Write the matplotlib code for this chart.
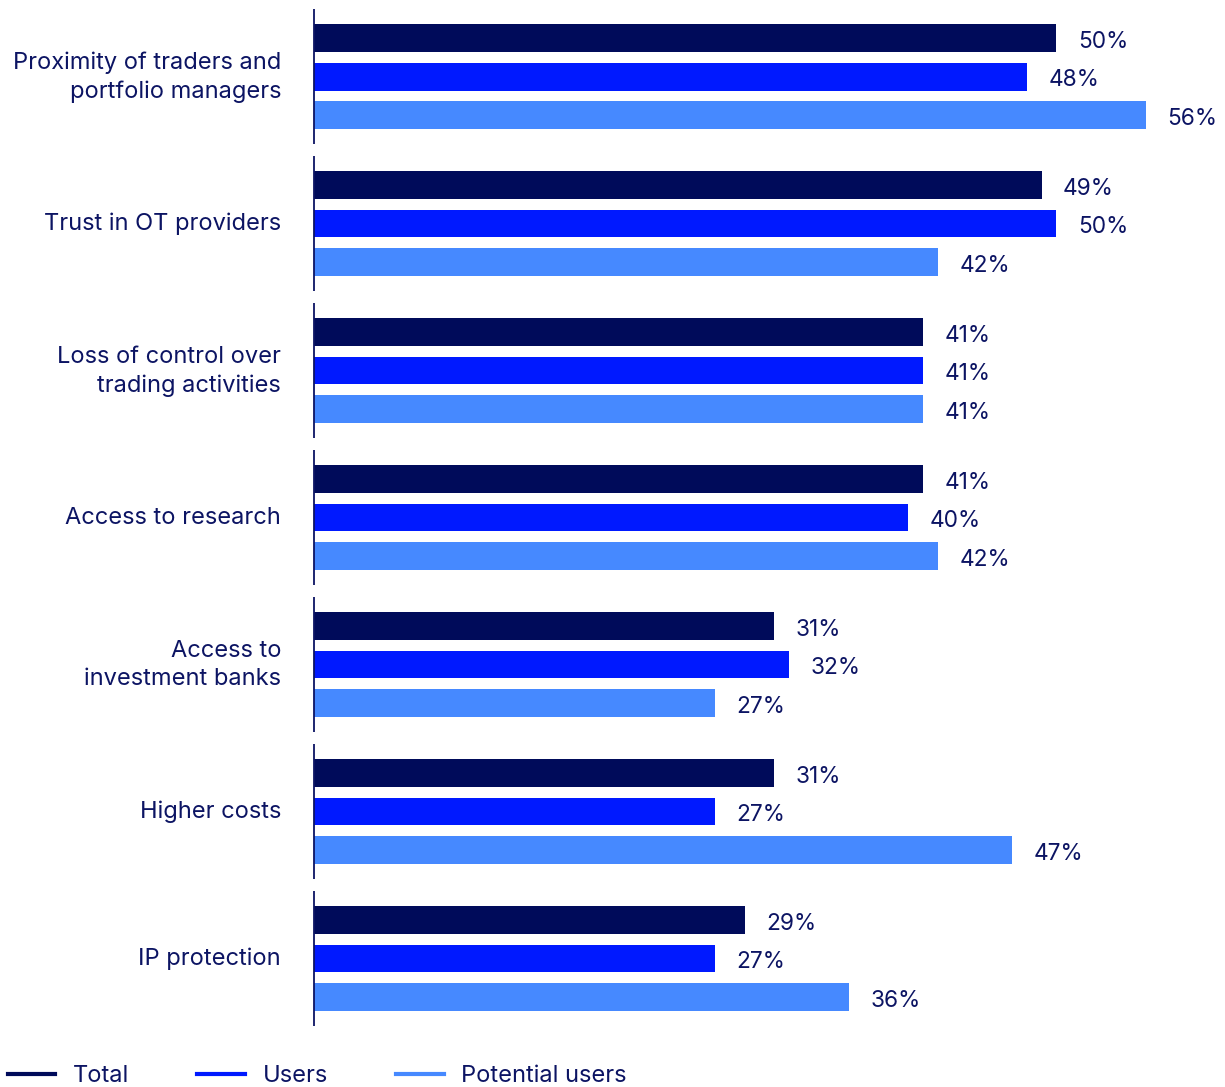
import numpy as np
import matplotlib
matplotlib.use("Agg")
from matplotlib import pyplot as plt
from matplotlib.lines import Line2D

plt.rcParams['font.family'] = ['Inter', 'DejaVu Sans']

categories = [
    "Proximity of traders and\nportfolio managers",
    "Trust in OT providers",
    "Loss of control over\ntrading activities",
    "Access to research",
    "Access to\ninvestment banks",
    "Higher costs",
    "IP protection",
]
series_names = ["Total", "Users", "Potential users"]
total = [50, 49, 41, 41, 31, 31, 29]
users = [48, 50, 41, 40, 32, 27, 27]
potential = [56, 42, 41, 42, 27, 47, 36]

colors = ["#000b5a", "#0019ff", "#4689ff"]
text_col = "#0c1463"

fig = plt.figure(figsize=(12.25, 10.87), dpi=100)
ax = fig.add_axes([0.2563, 0.0506, 0.7273, 0.9466])

y = np.arange(len(categories))
offs = [-0.262, 0.0, 0.262]
bh = 0.19
for vals, off, c in zip([total, users, potential], offs, colors):
    bars = ax.barh(y + off, vals, height=bh, color=c)
    for b, v in zip(bars, vals):
        ax.text(b.get_width() + 1.45, b.get_y() + bh / 2 + 0.025, f"{v}%",
                va="center", ha="left", fontsize=16.3, color=text_col)

# broken left axis, one segment per group
for yi in y:
    ax.plot([0, 0], [yi - 0.46, yi + 0.46], color=text_col, lw=1.3,
            solid_capstyle="butt", clip_on=False)

# category labels, right-aligned left of the axis
ytr = ax.get_yaxis_transform()
for yi, cat in zip(y, categories):
    ax.text(-0.037, yi + 0.004, cat, transform=ytr, ha="right", va="center",
            multialignment="right", fontsize=17, color=text_col,
            linespacing=1.37)

ax.set_xlim(0, 60)
ax.set_ylim(len(categories) - 0.5, -0.5)
ax.set_yticks([])
ax.set_xticks([])
for s in ax.spines.values():
    s.set_visible(False)

handles = [Line2D([0], [0], color=c, lw=3) for c in colors]
fig.legend(handles, series_names, loc="lower left", bbox_to_anchor=(-0.0112, -0.02),
           ncol=3, frameon=False, fontsize=17, labelcolor=text_col,
           handlelength=2.0, handletextpad=0.76, columnspacing=2.9)

fig.savefig("out.png", dpi=100)
